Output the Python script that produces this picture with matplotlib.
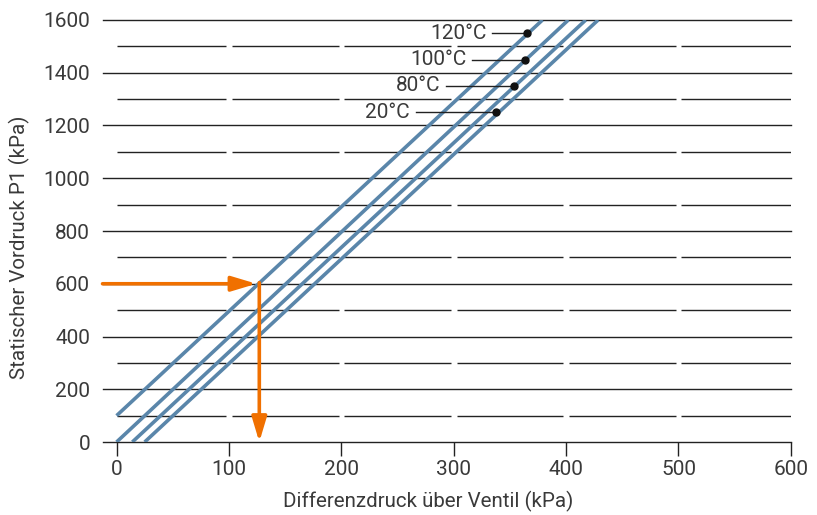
import matplotlib
matplotlib.use("Agg")
import matplotlib.pyplot as plt

plt.rcParams['font.family'] = ['Roboto', 'DejaVu Sans']

# ---- data ----
labels = ["120°C", "100°C", "80°C", "20°C"]
line_x0 = [0, 0, 14, 25]
line_y0 = [100, 0, 0, 0]
line_x1 = [379, 402, 417.5, 428.5]
line_y1 = [1600, 1600, 1600, 1600]
dot_x = [365.6, 363.8, 353.4, 338.0]
dot_y = [1550, 1450, 1350, 1250]
leader_x = [334.5, 316.6, 293.5, 266.0]
major_y = [0, 200, 400, 600, 800, 1000, 1200, 1400, 1600]
minor_y = [100, 300, 500, 700, 900, 1100, 1300, 1500]
x_ticks = [0, 100, 200, 300, 400, 500, 600]
op_y = 600     # Vordruck reading
op_x = 127     # resulting Differenzdruck

blue = '#5a86aa'
orange = '#f07000'
grid_c = '#222222'
text_c = '#3a3a3a'
weight = 'normal'

fig = plt.figure(figsize=(8.17, 5.15), dpi=100)
ax = fig.add_axes([0.1255, 0.1417, 0.968 - 0.1255, 0.9612 - 0.1417])
xmin, xmax = -12.5, 600
ax.set_xlim(xmin, xmax)
ax.set_ylim(0, 1600)

for s in ax.spines.values():
    s.set_visible(False)

# major grid lines (full width)
for y in major_y:
    ax.plot([xmin, xmax], [y, y], color=grid_c, lw=1.0, zorder=1, clip_on=False)

# minor grid lines: segments between x ticks with small gaps
seg_gap = 2.5
for y in minor_y:
    starts, ends = [], []
    for i in range(len(x_ticks) - 1):
        a, b = x_ticks[i], x_ticks[i + 1]
        starts.append(a if i == 0 else a + seg_gap)
        ends.append(b if i == len(x_ticks) - 2 else b - seg_gap)
    ax.hlines([y] * len(starts), starts, ends, color=grid_c, lw=1.0, zorder=1)

# diagonal lines
for x0, y0, x1, y1 in zip(line_x0, line_y0, line_x1, line_y1):
    ax.plot([x0, x1], [y0, y1], color=blue, lw=2.6, solid_capstyle='butt', zorder=3)

# labels with leader lines and dots
for lab, dx, dy, lx in zip(labels, dot_x, dot_y, leader_x):
    ax.plot([lx, dx], [dy, dy], color='#222222', lw=1.0, zorder=4)
    ax.plot([dx], [dy], 'o', color='#111111', ms=5, zorder=5)
    ax.text(lx - 5, dy, lab, ha='right', va='center', fontsize=15, color=text_c,
            fontweight=weight, zorder=5)

# orange reading arrows
ax.annotate('', xy=(op_x - 2.5, op_y), xytext=(xmin, op_y),
            arrowprops=dict(arrowstyle='-|>,head_length=1.5,head_width=0.45',
                            color=orange, lw=2.6, shrinkA=0, shrinkB=0,
                            mutation_scale=10),
            annotation_clip=False, zorder=6)
ax.annotate('', xy=(op_x, 0), xytext=(op_x, op_y + 4),
            arrowprops=dict(arrowstyle='-|>,head_length=1.5,head_width=0.45',
                            color=orange, lw=2.6, shrinkA=0, shrinkB=0,
                            mutation_scale=10),
            zorder=6)

ax.set_xticks(x_ticks)
ax.set_yticks(major_y)
ax.tick_params(axis='x', direction='out', length=10, width=1.0, color=grid_c,
               labelsize=15, labelcolor=text_c, pad=3)
ax.tick_params(axis='y', length=0, labelsize=15, labelcolor=text_c, pad=9)
for t in ax.get_xticklabels() + ax.get_yticklabels():
    t.set_fontweight(weight)

ax.set_xlabel('Differenzdruck über Ventil (kPa)', fontsize=14.75, color=text_c,
              fontweight=weight)
ax.set_ylabel('Statischer Vordruck P1 (kPa)', fontsize=14.75, color=text_c,
              fontweight=weight)
ax.xaxis.set_label_coords(0.4735, -0.115)
ax.yaxis.set_label_coords(-0.105, 0.462)

fig.savefig('out.png', dpi=100)
